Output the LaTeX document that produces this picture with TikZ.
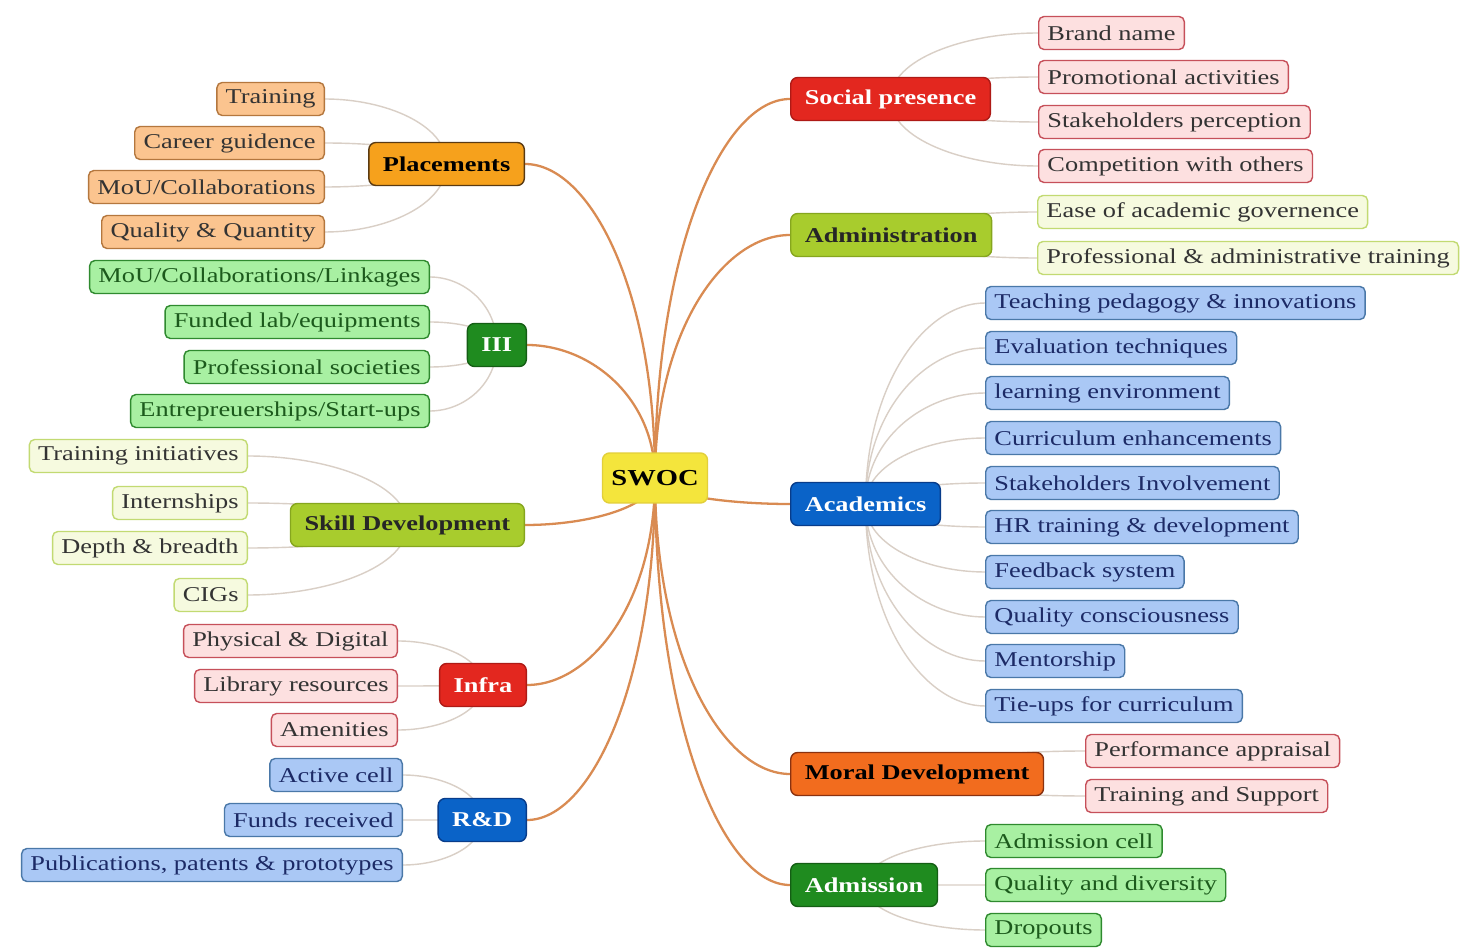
\documentclass[tikz,border=0pt]{standalone}
\usepackage{fontspec}
\setmainfont{Liberation Serif}[FakeStretch=1.25]
\usetikzlibrary{positioning}
\usetikzlibrary{calc}
\usetikzlibrary{backgrounds}

\definecolor{linkc}{HTML}{D98B52}
\definecolor{twigc}{HTML}{D9CFC6}
\definecolor{swocf}{HTML}{F4E53C}
\definecolor{swocd}{HTML}{E2CF3A}
\definecolor{orf}{HTML}{F6A11C}
\definecolor{ord}{HTML}{5A3A12}
\definecolor{orlf}{HTML}{FBC48F}
\definecolor{orld}{HTML}{B4773E}
\definecolor{grf}{HTML}{1F8B1F}
\definecolor{grd}{HTML}{145E14}
\definecolor{grlf}{HTML}{A8F0A2}
\definecolor{grld}{HTML}{2F8A2F}
\definecolor{grlt}{HTML}{1C5A1C}
\definecolor{ygf}{HTML}{A8CC2D}
\definecolor{ygd}{HTML}{86A61E}
\definecolor{yglf}{HTML}{F6FADF}
\definecolor{ygld}{HTML}{C2DA72}
\definecolor{rdf}{HTML}{E3271F}
\definecolor{rdd}{HTML}{AE1A16}
\definecolor{pklf}{HTML}{FDE0E0}
\definecolor{pkld}{HTML}{C6505A}
\definecolor{blf}{HTML}{0A63C8}
\definecolor{bld}{HTML}{083C8A}
\definecolor{bllf}{HTML}{AAC8F5}
\definecolor{blld}{HTML}{4A78A8}
\definecolor{bllt}{HTML}{1C2A66}
\definecolor{mdf}{HTML}{F26C1E}
\definecolor{mdd}{HTML}{8A3210}

\tikzset{
  box/.style={draw,rounded corners=3pt,line width=0.8pt,inner xsep=5pt,inner ysep=0pt,
    minimum height=0.66cm,font=\fontsize{12}{14}\selectfont},
  topic/.style={box,rounded corners=4pt,minimum height=0.86cm,inner xsep=8pt,
    font=\fontsize{12}{14}\selectfont\bfseries},
  hub/.style={topic,minimum height=1cm,minimum width=2.1cm,inner xsep=3pt,fill=swocf,draw=swocd,
    font=\fontsize{13}{16}\selectfont\bfseries},
  ortopic/.style={topic,fill=orf,draw=ord,text=black},
  grtopic/.style={topic,fill=grf,draw=grd,text=white},
  ygtopic/.style={topic,fill=ygf,draw=ygd,text=black!85},
  rdtopic/.style={topic,fill=rdf,draw=rdd,text=white},
  bltopic/.style={topic,fill=blf,draw=bld,text=white},
  mdtopic/.style={topic,fill=mdf,draw=mdd,text=black},
  orleaf/.style={box,fill=orlf,draw=orld,text=black!80},
  grleaf/.style={box,fill=grlf,draw=grld,text=grlt},
  ygleaf/.style={box,fill=yglf,draw=ygld,text=black!80},
  pkleaf/.style={box,fill=pklf,draw=pkld,text=black!80},
  blleaf/.style={box,fill=bllf,draw=blld,text=bllt},
  link/.style={draw=linkc,line width=1.3pt},
  twig/.style={draw=twigc,line width=0.8pt}
}

\begin{document}
\begin{tikzpicture}[x=0.02cm,y=-0.02cm]
\useasboundingbox (0,0) rectangle (1482,949);

\node[hub] (swoc) at (655,478) {SWOC};

% left side
\node[ortopic,anchor=east] (plac) at (525,164) {Placements};
\node[orleaf,anchor=east] (p1) at (325,99) {Training};
\node[orleaf,anchor=east] (p2) at (325,143) {Career guidence};
\node[orleaf,anchor=east] (p3) at (325,187) {MoU/Collaborations};
\node[orleaf,anchor=east] (p4) at (325,232) {Quality \& Quantity};

\node[grtopic,anchor=east] (iii) at (527,345) {III};
\node[grleaf,anchor=east] (i1) at (430,277) {MoU/Collaborations/Linkages};
\node[grleaf,anchor=east] (i2) at (430,322) {Funded lab/equipments};
\node[grleaf,anchor=east] (i3) at (430,367) {Professional societies};
\node[grleaf,anchor=east] (i4) at (430,411) {Entrepreuerships/Start-ups};

\node[ygtopic,anchor=east] (skill) at (525,525) {Skill Development};
\node[ygleaf,anchor=east] (s1) at (248,456) {Training initiatives};
\node[ygleaf,anchor=east] (s2) at (248,503) {Internships};
\node[ygleaf,anchor=east] (s3) at (248,548) {Depth \& breadth};
\node[ygleaf,anchor=east] (s4) at (248,595) {CIGs};

\node[rdtopic,anchor=east] (infra) at (527,685) {Infra};
\node[pkleaf,anchor=east] (f1) at (398,641) {Physical \& Digital};
\node[pkleaf,anchor=east] (f2) at (398,686) {Library resources};
\node[pkleaf,anchor=east] (f3) at (398,730) {Amenities};

\node[bltopic,anchor=east] (rnd) at (527,820) {R\&D};
\node[blleaf,anchor=east] (r1) at (403,775) {Active cell};
\node[blleaf,anchor=east] (r2) at (403,820) {Funds received};
\node[blleaf,anchor=east] (r3) at (403,865) {Publications, patents \& prototypes};

% right side
\node[rdtopic,anchor=west] (soc) at (790,99) {Social presence};
\node[pkleaf,anchor=west] (c1) at (1038,33) {Brand name};
\node[pkleaf,anchor=west] (c2) at (1038,77) {Promotional activities};
\node[pkleaf,anchor=west] (c3) at (1038,122) {Stakeholders perception};
\node[pkleaf,anchor=west] (c4) at (1038,166) {Competition with others};

\node[ygtopic,anchor=west] (adm) at (790,235) {Administration};
\node[ygleaf,anchor=west] (d1) at (1037,212) {Ease of academic governence};
\node[ygleaf,anchor=west] (d2) at (1037,258) {Professional \& administrative training};

\node[bltopic,anchor=west] (acad) at (790,504) {Academics};
\node[blleaf,anchor=west] (a1) at (985,303) {Teaching pedagogy \& innovations};
\node[blleaf,anchor=west] (a2) at (985,348) {Evaluation techniques};
\node[blleaf,anchor=west] (a3) at (985,393) {learning environment};
\node[blleaf,anchor=west] (a4) at (985,438) {Curriculum enhancements};
\node[blleaf,anchor=west] (a5) at (985,483) {Stakeholders Involvement};
\node[blleaf,anchor=west] (a6) at (985,527) {HR training \& development};
\node[blleaf,anchor=west] (a7) at (985,572) {Feedback system};
\node[blleaf,anchor=west] (a8) at (985,617) {Quality consciousness};
\node[blleaf,anchor=west] (a9) at (985,661) {Mentorship};
\node[blleaf,anchor=west] (a10) at (985,706) {Tie-ups for curriculum};

\node[mdtopic,anchor=west] (moral) at (790,774) {Moral Development};
\node[pkleaf,anchor=west] (m1) at (1085,751) {Performance appraisal};
\node[pkleaf,anchor=west] (m2) at (1085,796) {Training and Support};

\node[grtopic,anchor=west] (admi) at (790,885) {Admission};
\node[grleaf,anchor=west] (e1) at (985,841) {Admission cell};
\node[grleaf,anchor=west] (e2) at (985,885) {Quality and diversity};
\node[grleaf,anchor=west] (e3) at (985,930) {Dropouts};

\begin{scope}[on background layer]
  \fill[white] (0,0) rectangle (1482,949);
  % branches from the hub
  \foreach \t in {plac,iii,skill,infra,rnd}
    \draw[link] (swoc.center) .. controls ($(swoc.center)!0.6!(swoc.center |- \t.east)$)
      and ($(\t.east)!0.5!(swoc.center |- \t.east)$) .. (\t.east);
  \foreach \t in {soc,adm,acad,moral,admi}
    \draw[link] (swoc.center) .. controls ($(swoc.center)!0.6!(swoc.center |- \t.west)$)
      and ($(\t.west)!0.5!(swoc.center |- \t.west)$) .. (\t.west);
  % twigs to the leaves
  \foreach \t/\l in {plac/p1,plac/p2,plac/p3,plac/p4,iii/i1,iii/i2,iii/i3,iii/i4,
      skill/s1,skill/s2,skill/s3,skill/s4,infra/f1,infra/f2,infra/f3,rnd/r1,rnd/r2,rnd/r3}
    \draw[twig] (\t.center) .. controls ($(\t.center)!0.6!(\t.center |- \l.east)$)
      and ($(\l.east)!0.5!(\t.center |- \l.east)$) .. (\l.east);
  \foreach \t/\l in {soc/c1,soc/c2,soc/c3,soc/c4,adm/d1,adm/d2,
      acad/a1,acad/a2,acad/a3,acad/a4,acad/a5,acad/a6,acad/a7,acad/a8,acad/a9,acad/a10,
      moral/m1,moral/m2,admi/e1,admi/e2,admi/e3}
    \draw[twig] (\t.center) .. controls ($(\t.center)!0.6!(\t.center |- \l.west)$)
      and ($(\l.west)!0.5!(\t.center |- \l.west)$) .. (\l.west);
\end{scope}
\end{tikzpicture}
\end{document}
